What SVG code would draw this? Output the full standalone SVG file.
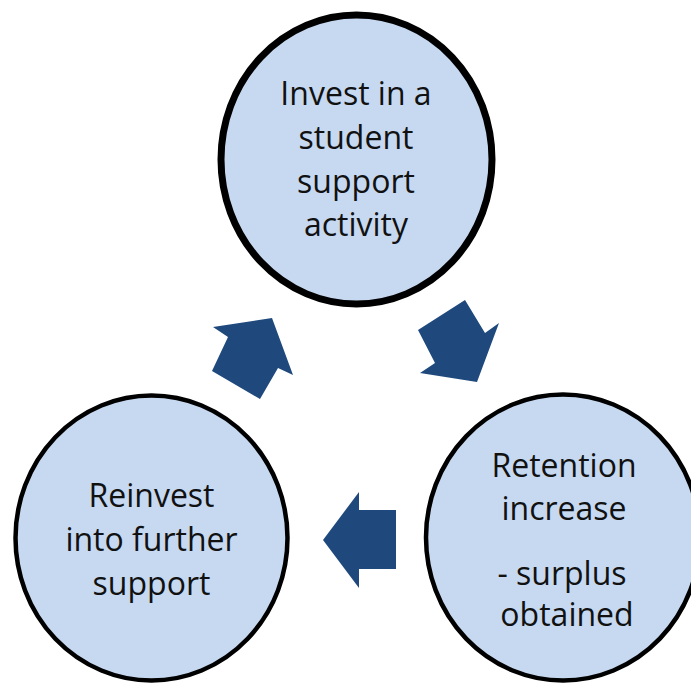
<svg xmlns="http://www.w3.org/2000/svg" width="691" height="685" viewBox="0 0 691 685">
<style>
.node ellipse{fill:#C6D9F1;stroke:#000}
.node text{font-family:"Open Sans","Liberation Sans",sans-serif;font-size:32px;fill:#111;text-anchor:middle}
.arrow{fill:#1F497D}
</style>
<rect width="691" height="685" fill="#fff"/>
<g id="node-invest" class="node">
<ellipse cx="356.5" cy="159.5" rx="135.5" ry="144.5" stroke-width="7"/>
<text x="356" y="105">Invest in a</text>
<text x="356" y="149">student</text>
<text x="356" y="193">support</text>
<text x="356" y="236">activity</text>
</g>
<g id="node-retention" class="node">
<ellipse cx="563" cy="537.5" rx="137" ry="143" stroke-width="4.5"/>
<text x="564" y="477">Retention</text>
<text x="564" y="520">increase</text>
<text x="562" y="585"> - surplus</text>
<text x="567" y="626">obtained</text>
</g>
<g id="node-reinvest" class="node">
<ellipse cx="151.5" cy="538" rx="136" ry="142.5" stroke-width="4.5"/>
<text x="151.5" y="507">Reinvest</text>
<text x="151.5" y="551">into further</text>
<text x="151.5" y="595">support</text>
</g>
<g id="connectors">
<polygon class="arrow" points="465,300 418,330 435,363 420,373 477,382 499,323 485,333"/>
<polygon class="arrow" points="323,540 359,492 359,510 396,510 396,569 359,569 359,588"/>
<polygon class="arrow" points="272,318 213,327 228,337 212,371 260,399 278,368 293,375"/>
</g>
</svg>
